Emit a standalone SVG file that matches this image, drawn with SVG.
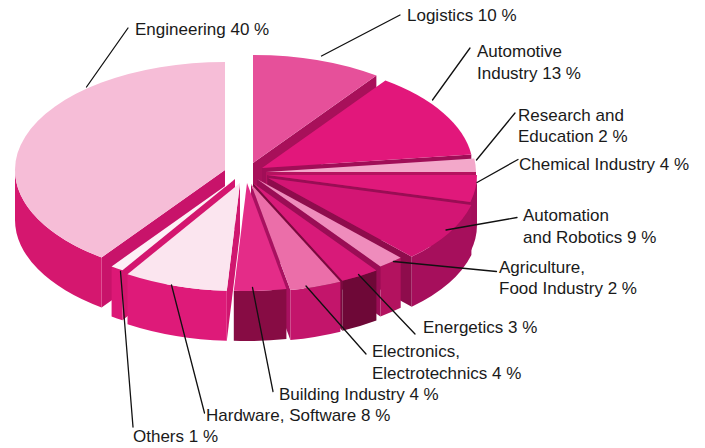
<svg xmlns="http://www.w3.org/2000/svg" width="705" height="448" viewBox="0 0 705 448">
<style>
.lbl{font-family:"Liberation Sans",Arial,Helvetica,sans-serif;font-size:17px;fill:#1a1a1a}
.ld{stroke:#111;stroke-width:1.3;fill:none;stroke-linecap:round}
</style>
<rect width="705" height="448" fill="#ffffff"/>
<g id="slice-engineering">
<path d="M225,170 L101.6,257.4 L101.6,307.4 L225,220 Z" fill="#c8136a"/>
<path d="M101.6,257.4 A210,108 0 0 1 15,170 L15,220 A210,108 0 0 0 101.6,307.4 Z" fill="#d5176f"/>
<path d="M225,170 L101.6,257.4 A210,108 0 0 1 225,62 Z" fill="#f6bdd7"/>
<text class="lbl" x="135" y="35">Engineering 40 %</text>
</g>
<g id="slice-logistics">
<path d="M253,163 L376.4,75.6 L376.4,125.6 L253,213 Z" fill="#a8105a"/>
<path d="M253,163 L253,55 A210,108 0 0 1 376.4,75.6 Z" fill="#e6509a"/>
<text class="lbl" x="407" y="21">Logistics 10 %</text>
</g>
<g id="slice-automotive">
<path d="M262,168 L471.3,154.5 L471.3,204.5 L262,218 Z" fill="#a00e57"/>
<path d="M262,168 L385.4,80.6 A210,108 0 0 1 471.3,154.5 Z" fill="#e2177b"/>
<text class="lbl" x="477" y="57">Automotive</text>
<text class="lbl" x="477" y="79">Industry 13 %</text>
</g>
<g id="slice-research">
<path d="M266,172 L476,172 L476,222 L266,222 Z" fill="#b5125f"/>
<path d="M266,172 L474.3,158.5 A210,108 0 0 1 476,172 Z" fill="#f3a8ca"/>
<text class="lbl" x="518" y="121">Research and</text>
<text class="lbl" x="518" y="142">Education 2 %</text>
</g>
<g id="slice-chemical">
<path d="M267,175 L470.4,201.9 L470.4,251.9 L267,225 Z" fill="#990d54"/>
<path d="M477,175 A210,108 0 0 1 470.4,201.9 L470.4,251.9 A210,108 0 0 0 477,225 Z" fill="#a30e5a"/>
<path d="M267,175 L477,175 A210,108 0 0 1 470.4,201.9 Z" fill="#e0197b"/>
<text class="lbl" x="519" y="170">Chemical Industry 4 %</text>
</g>
<g id="slice-automation">
<path d="M268,178 L411.7,256.7 L411.7,306.7 L268,228 Z" fill="#8e0c4c"/>
<path d="M471.4,204.9 A210,108 0 0 1 411.7,256.7 L411.7,306.7 A210,108 0 0 0 471.4,254.9 Z" fill="#a60f5c"/>
<path d="M268,178 L471.4,204.9 A210,108 0 0 1 411.7,256.7 Z" fill="#d31574"/>
<text class="lbl" x="523" y="221">Automation</text>
<text class="lbl" x="523" y="243">and Robotics 9 %</text>
</g>
<g id="slice-agriculture">
<path d="M257,179 L380.4,266.4 L380.4,316.4 L257,229 Z" fill="#9a0d55"/>
<path d="M400.7,257.7 A210,108 0 0 1 380.4,266.4 L380.4,316.4 A210,108 0 0 0 400.7,307.7 Z" fill="#b3125f"/>
<path d="M257,179 L400.7,257.7 A210,108 0 0 1 380.4,266.4 Z" fill="#ef8cbc"/>
<text class="lbl" x="499" y="273">Agriculture,</text>
<text class="lbl" x="499" y="294">Food Industry 2 %</text>
</g>
<g id="slice-energetics">
<path d="M253,183 L342.4,280.7 L342.4,330.7 L253,233 Z" fill="#7a0a3e"/>
<path d="M376.4,270.4 A210,108 0 0 1 342.4,280.7 L342.4,330.7 A210,108 0 0 0 376.4,320.4 Z" fill="#6e0837"/>
<path d="M253,183 L376.4,270.4 A210,108 0 0 1 342.4,280.7 Z" fill="#d81a79"/>
<text class="lbl" x="423" y="333">Energetics 3 %</text>
</g>
<g id="slice-electronics">
<path d="M251,184 L290.4,290.1 L290.4,340.1 L251,234 Z" fill="#a81160"/>
<path d="M340.4,281.7 A210,108 0 0 1 290.4,290.1 L290.4,340.1 A210,108 0 0 0 340.4,331.7 Z" fill="#c3156b"/>
<path d="M251,184 L340.4,281.7 A210,108 0 0 1 290.4,290.1 Z" fill="#eb6ea9"/>
<text class="lbl" x="372" y="357">Electronics,</text>
<text class="lbl" x="372" y="379">Electrotechnics 4 %</text>
</g>
<g id="slice-others">
<path d="M235,179 L122.5,270.2 L122.5,320.2 L235,229 Z" fill="#d4166f"/>
<path d="M122.5,270.2 A210,108 0 0 1 111.6,266.4 L111.6,316.4 A210,108 0 0 0 122.5,320.2 Z" fill="#dc1876"/>
<path d="M235,179 L122.5,270.2 A210,108 0 0 1 111.6,266.4 Z" fill="#fdf0f6"/>
<text class="lbl" x="133" y="442">Others 1 %</text>
</g>
<g id="slice-hardware">
<path d="M240,183 L226.8,290.8 L226.8,340.8 L240,233 Z" fill="#d0166f"/>
<path d="M226.8,290.8 A210,108 0 0 1 127.5,274.2 L127.5,324.2 A210,108 0 0 0 226.8,340.8 Z" fill="#de1a79"/>
<path d="M240,183 L226.8,290.8 A210,108 0 0 1 127.5,274.2 Z" fill="#fbe5ef"/>
<text class="lbl" x="206" y="421">Hardware, Software 8 %</text>
</g>
<g id="slice-building">
<path d="M286.4,289.1 A210,108 0 0 1 233.8,290.8 L233.8,340.8 A210,108 0 0 0 286.4,339.1 Z" fill="#870c44"/>
<path d="M247,183 L286.4,289.1 A210,108 0 0 1 233.8,290.8 Z" fill="#e42c88"/>
<text class="lbl" x="279" y="400">Building Industry 4 %</text>
</g>
<g id="connectors">
<path class="ld" d="M128,28 L86.5,87"/>
<path class="ld" d="M400,15 L321.5,56"/>
<path class="ld" d="M470,48 L432.5,100"/>
<path class="ld" d="M515,113 L476.5,160"/>
<path class="ld" d="M518,159.5 L477,182.5"/>
<path class="ld" d="M517,217.5 L446,230"/>
<path class="ld" d="M496.5,271.5 L393.5,261.5"/>
<path class="ld" d="M415,334 L358.5,274.5"/>
<path class="ld" d="M366,354 L306,286"/>
<path class="ld" d="M273,391.5 L252.5,287.5"/>
<path class="ld" d="M204.5,413 L171.5,285"/>
<path class="ld" d="M133,427 L120.5,271.5"/>
</g>
</svg>
